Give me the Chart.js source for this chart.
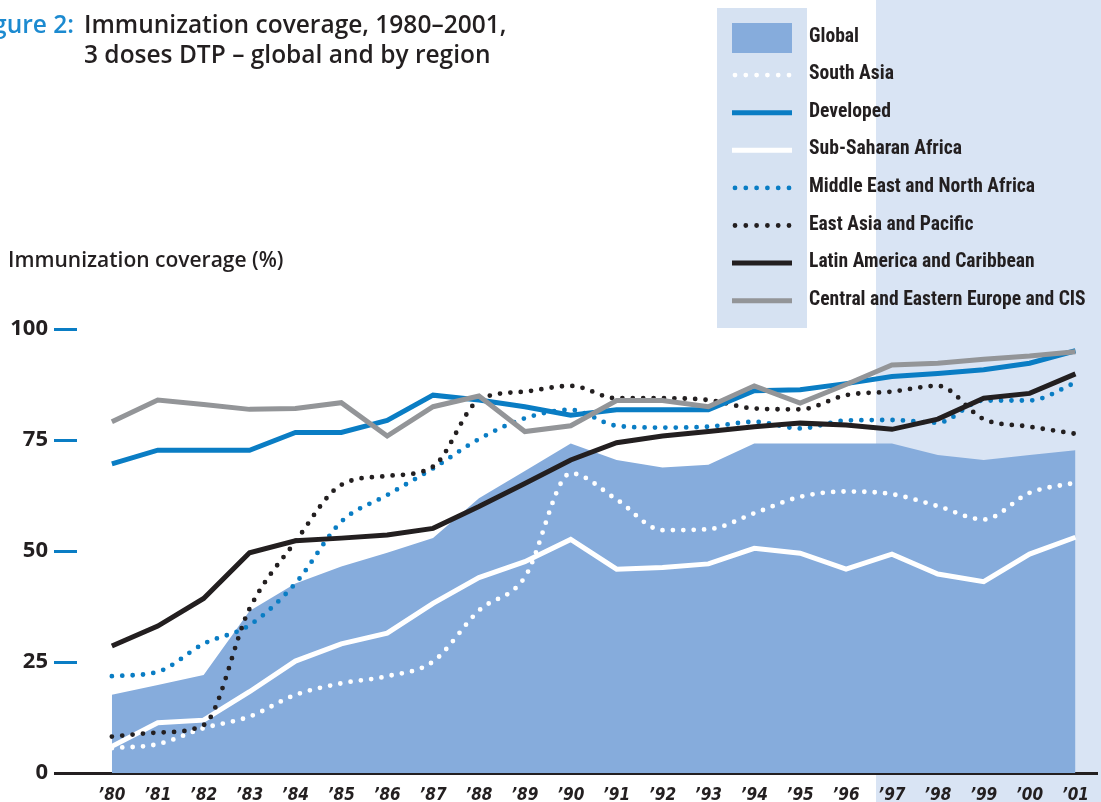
<!DOCTYPE html>
<html>
<head>
<meta charset="utf-8">
<script src="https://cdn.jsdelivr.net/npm/chart.js@4.4.0/dist/chart.umd.min.js"></script>
<style>
	html, body {margin: 0; padding: 0; background: #fff;}
	#wrap {position: relative; width: 1101px; height: 802px; overflow: hidden;}
	#chart_dtp {position: absolute; left: 0; top: 0;}
	.title {position: absolute; font-family: "Open Sans", sans-serif; font-weight: 600; font-size: 24.5px; line-height: 30px; color: #231f20; white-space: nowrap;}
	.fig {position: absolute; right: 1027px; top: 9px; font-family: "Open Sans", sans-serif; font-weight: 600; font-size: 24.5px; line-height: 30px; color: #1c8ad0; white-space: nowrap;}
	.ytitle {position: absolute; left: 8px; top: 247px; font-family: "Open Sans", sans-serif; font-weight: 600; font-size: 21px; line-height: 24px; color: #231f20; white-space: nowrap;}
	.leg {position: absolute; left: 809px; font-family: "Liberation Sans Narrow", "Roboto Condensed", "DejaVu Sans Condensed", sans-serif; font-weight: bold; font-size: 19.6px; line-height: 24px; color: #231f20; white-space: nowrap;}
</style>
</head>
<body>
<div id="wrap">
	<canvas id="chart_dtp" width="1101" height="802"></canvas>
	<div class="fig">Figure 2:</div>
	<div class="title" style="left:84px; top:9px;">Immunization coverage, 1980–2001,<br>3 doses DTP – global and by region</div>
	<div class="ytitle">Immunization coverage (%)</div>
	<div id="legend"></div>
</div>
<script>
'use strict';

// values, % coverage with 3 doses of DTP
const years = [1980, 1981, 1982, 1983, 1984, 1985, 1986, 1987, 1988, 1989, 1990,
	1991, 1992, 1993, 1994, 1995, 1996, 1997, 1998, 1999, 2000, 2001];
const globalCov = [17.6, 19.8, 22.1, 36.5, 42.7, 46.5, 49.6, 52.9, 61.9, 68.0, 74.2,
	70.5, 68.8, 69.4, 74.2, 74.2, 74.2, 74.2, 71.6, 70.5, 71.6, 72.7];
const southAsia = [5.6, 6.5, 10.1, 12.7, 17.6, 20.2, 21.8, 25.1, 36.6, 44.1, 67.5,
	61.6, 54.7, 54.9, 58.5, 62.2, 63.4, 62.8, 60.1, 57.1, 63.1, 65.4];
const developed = [69.6, 72.7, 72.7, 72.7, 76.7, 76.7, 79.4, 85.1, 84.0, 82.5, 80.6,
	81.8, 81.8, 81.8, 86.1, 86.3, 87.7, 89.3, 90.0, 90.8, 92.3, 95.1];
const subSaharan = [6.0, 11.3, 11.9, 18.3, 25.2, 29.1, 31.5, 38.2, 44.0, 47.6, 52.6,
	45.9, 46.3, 47.1, 50.6, 49.5, 45.9, 49.3, 44.8, 43.1, 49.3, 53.1];
const middleEast = [21.8, 22.8, 29.1, 33.3, 42.7, 56.6, 62.6, 68.6, 75.2, 79.9, 81.8,
	78.2, 77.8, 78.0, 79.1, 77.6, 79.4, 79.5, 78.9, 83.9, 83.9, 87.9];
const eastAsia = [8.2, 9.1, 10.8, 37.0, 52.1, 64.9, 66.9, 69.0, 84.0, 85.9, 87.2,
	84.4, 84.4, 84.0, 82.1, 81.9, 85.1, 85.9, 87.2, 79.7, 78.0, 76.4];
const latinAmerica = [28.6, 33.1, 39.3, 49.6, 52.3, 52.9, 53.6, 55.1, 60.0, 65.2, 70.5,
	74.4, 75.9, 76.9, 78.0, 78.8, 78.4, 77.4, 79.7, 84.4, 85.5, 89.9];
const ceeCis = [79.1, 84.0, 83.0, 81.9, 82.1, 83.4, 75.9, 82.5, 84.9, 76.9, 78.2,
	83.9, 83.9, 82.5, 87.2, 83.3, 87.5, 91.9, 92.3, 93.2, 93.9, 94.9];
const yTicks = [0, 25, 50, 75, 100];

const COLORS = {
	global: '#86acdc',
	blue: '#0a7dc4',
	black: '#231f20',
	grey: '#939598',
	white: '#ffffff',
};

const legendItems = [
	{label: 'Global', color: COLORS.global, type: 'box'},
	{label: 'South Asia', color: COLORS.white, type: 'dot'},
	{label: 'Developed', color: COLORS.blue, type: 'line'},
	{label: 'Sub-Saharan Africa', color: COLORS.white, type: 'line'},
	{label: 'Middle East and North Africa', color: COLORS.blue, type: 'dot'},
	{label: 'East Asia and Pacific', color: COLORS.black, type: 'dot'},
	{label: 'Latin America and Caribbean', color: COLORS.black, type: 'line'},
	{label: 'Central and Eastern Europe and CIS', color: COLORS.grey, type: 'line'},
];

function points(values) {
	return years.map((year, i) => ({x: year, y: values[i]}));
}

function solidLine(label, values, color, order) {
	return {
		label: label,
		data: points(values),
		borderColor: color,
		borderWidth: 5,
		borderJoinStyle: 'miter',
		pointRadius: 0,
		tension: 0,
		fill: false,
		order: order,
	};
}

function dottedLine(label, values, color, order) {
	return {
		label: label,
		data: points(values),
		borderColor: color,
		borderWidth: 4.8,
		borderDash: [0, 10.4],
		borderCapStyle: 'round',
		pointRadius: 0,
		cubicInterpolationMode: 'monotone',
		fill: false,
		order: order,
	};
}

let datasets = [
	{
		label: 'Global',
		data: points(globalCov),
		backgroundColor: COLORS.global,
		borderWidth: 0,
		pointRadius: 0,
		tension: 0,
		fill: 'origin',
		order: 20,
	},
	dottedLine('South Asia', southAsia, COLORS.white, 9),
	solidLine('Sub-Saharan Africa', subSaharan, COLORS.white, 8),
	dottedLine('Middle East and North Africa', middleEast, COLORS.blue, 7),
	dottedLine('East Asia and Pacific', eastAsia, COLORS.black, 6),
	solidLine('Latin America and Caribbean', latinAmerica, COLORS.black, 5),
	solidLine('Developed', developed, COLORS.blue, 4),
	solidLine('Central and Eastern Europe and CIS', ceeCis, COLORS.grey, 3),
];

// pale panels behind the plot and the legend key column
const backdrop = {
	id: 'backdrop',
	beforeDraw(chart) {
		let ctx = chart.ctx;
		ctx.save();
		ctx.fillStyle = '#d9e4f4';
		ctx.fillRect(876, 0, 225, 802);
		ctx.fillStyle = '#d6e2f2';
		ctx.fillRect(717, 8, 90, 320);
		ctx.restore();
	},
	afterDraw(chart) {
		let ctx = chart.ctx;
		ctx.save();
		legendItems.forEach((item, i) => {
			let cy = 37.5 + i * 37.6;
			ctx.strokeStyle = item.color;
			ctx.fillStyle = item.color;
			if (item.type === 'box') {
				ctx.fillRect(732, 23, 60, 30);
			} else if (item.type === 'line') {
				ctx.lineWidth = 5;
				ctx.setLineDash([]);
				ctx.lineCap = 'butt';
				ctx.beginPath();
				ctx.moveTo(732, cy);
				ctx.lineTo(792, cy);
				ctx.stroke();
			} else {
				ctx.lineWidth = 4.8;
				ctx.setLineDash([0, 10.8]);
				ctx.lineCap = 'round';
				ctx.beginPath();
				ctx.moveTo(735, cy);
				ctx.lineTo(791, cy);
				ctx.stroke();
			}
		});
		ctx.restore();
	},
};

function renderLegend() {
	let box = document.getElementById('legend');
	legendItems.forEach((item, i) => {
		let div = document.createElement('div');
		div.className = 'leg';
		div.style.top = (36 + i * 37.6 - 12.5) + 'px';
		div.textContent = item.label;
		box.appendChild(div);
	});
}

function renderChart(select) {
	let ctx = document.getElementById(select).getContext('2d');
	window.ChartDTP = new Chart(ctx, {
		type: 'line',
		data: {datasets: datasets},
		plugins: [backdrop],
		options: {
			responsive: false,
			animation: false,
			layout: {padding: {top: 329, left: 0, right: 0, bottom: 0}},
			plugins: {
				legend: {display: false},
				tooltip: {enabled: false},
			},
			scales: {
				x: {
					type: 'linear',
					min: 1979.24,
					max: 2001.48,
					afterFit: s => { s.height = 29; },
					afterBuildTicks: s => { s.ticks = years.map(v => ({value: v})); },
					grid: {display: false, drawTicks: false},
					border: {display: true, color: COLORS.black, width: 3},
					ticks: {
						autoSkip: false,
						maxRotation: 0,
						padding: 12,
						color: COLORS.black,
						font: {family: '"DejaVu Sans Condensed", sans-serif', size: 17, style: 'italic', weight: 'bold'},
						callback: v => '\u2019' + String(v).slice(2),
					},
				},
				y: {
					min: 0,
					max: 100,
					afterFit: s => { s.width = 77; },
					afterBuildTicks: s => { s.ticks = yTicks.map(v => ({value: v})); },
					grid: {
						display: true,
						drawOnChartArea: false,
						drawTicks: true,
						tickLength: 23,
						tickWidth: 3,
						tickColor: c => c.tick && c.tick.value === 0 ? COLORS.black : COLORS.blue,
					},
					border: {display: false},
					ticks: {
						padding: 6,
						color: COLORS.black,
						font: {family: '"Open Sans", sans-serif', size: 22, weight: 'bold'},
					},
				},
			},
		},
	});
}

renderLegend();
renderChart('chart_dtp');
</script>
</body>
</html>
